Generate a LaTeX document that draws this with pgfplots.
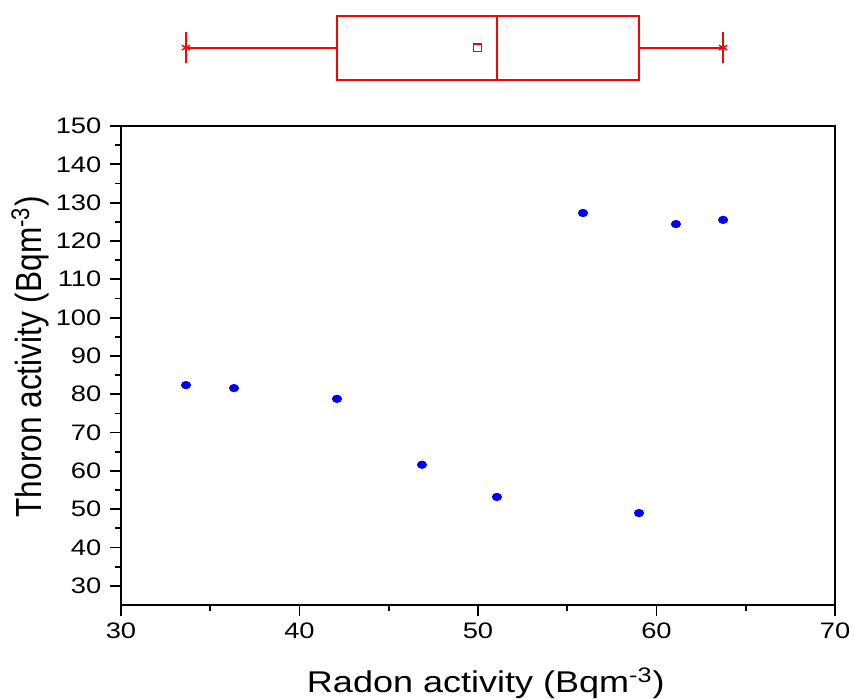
\documentclass[border=0pt]{standalone}
\usepackage{fontspec}
\setmainfont{Liberation Sans}
\usepackage{pgfplots}
\pgfplotsset{compat=1.18}
\usepgfplotslibrary{statistics}
\begin{document}
\begin{tikzpicture}
\begin{axis}[name=main, scale only axis, width=357pt, height=239.5pt,
  xmin=30, xmax=70, ymin=25, ymax=150,
  xtick={30,40,...,70}, minor xtick={35,45,...,65},
  ytick={30,40,...,150}, minor ytick={35,45,...,145},
  tick align=outside, xtick pos=left, ytick pos=left,
  major tick length=5.5pt, minor tick length=3pt,
  tick style={black, line width=0.9pt},
  axis line style={line width=0.9pt},
  /pgf/number format/assume math mode=true,
  ticklabel style={font=\fontsize{11.2}{13}\selectfont, xscale=1.22},
  xlabel={Radon activity (Bqm\textsuperscript{-3})},
  ylabel={Thoron activity (Bqm\textsuperscript{-3})},
  xlabel style={font=\fontsize{15}{18}\selectfont, xscale=1.2, at={(axis description cs:0.511,-0.163)}, anchor=center},
  ylabel style={font=\fontsize{15.8}{18}\selectfont, yscale=1.15, at={(axis description cs:-0.1275,0.518)}, anchor=center},
]
\addplot[only marks, mark=*, blue, mark size=1.85pt, mark options={xscale=1.25}] coordinates {
(33.64,82.4) (36.33,81.6) (42.10,78.8) (46.86,61.6) (51.06,53.2)
(55.88,127.3) (59.02,49.0) (61.09,124.4) (63.73,125.5)};
\end{axis}
\begin{axis}[at={(main.north west)}, anchor=south west,
  scale only axis, width=357pt, height=63pt,
  xmin=30, xmax=70, ymin=0, ymax=1, hide axis, clip=false]
\addplot[color=red, line width=0.9pt,
  boxplot/every box/.style={color=red, line width=0.9pt},
  boxplot/every median/.style={color=red, line width=0.9pt},
  boxplot/every whisker/.style={color=red, line width=0.9pt},
  boxplot prepared={draw direction=x, draw position=0.622,
  lower whisker=33.64, lower quartile=42.10, median=51.06, upper quartile=59.02,
  upper whisker=63.73, box extend=0.508, whisker extend=0.246}] coordinates {};
\addplot[color=red, only marks, mark=asterisk, mark size=2.4pt, line width=0.7pt] coordinates {(33.64,0.622) (63.73,0.622)};
\addplot[color=red, only marks, mark=square, mark size=1.9pt, line width=0.7pt, mark options={fill=white}] coordinates {(49.97,0.622)};
\end{axis}
\pgfresetboundingbox
\path[use as bounding box] ([shift={(-60.5pt,-46.5pt)}]main.south west) rectangle ++(427pt,349pt);
\end{tikzpicture}
\end{document}
